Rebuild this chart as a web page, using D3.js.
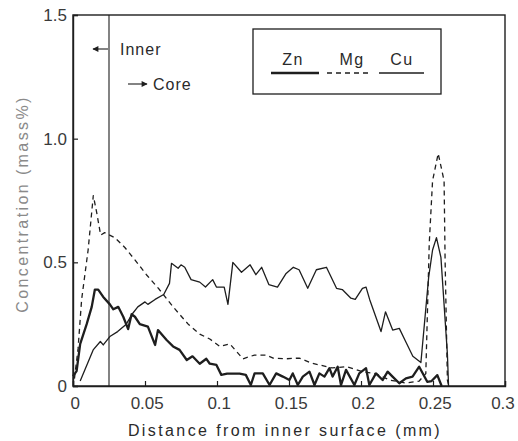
<!DOCTYPE html>
<html>
<head>
<meta charset="utf-8">
<script src="https://cdn.jsdelivr.net/npm/d3@7"></script>
<style>
  body { margin: 0; background: #fff; }
  svg { display: block; }
  text { font-family: "Liberation Sans", Arial, sans-serif; }
</style>
</head>
<body>
<svg width="518" height="441"></svg>
<script>
// Tick values and their printed labels
var xTicks = [0, 0.05, 0.1, 0.15, 0.2, 0.25, 0.3];
var xTickLabels = ["0", "0.05", "0.1", "0.15", "0.2", "0.25", "0.3"];
var yTicks = [0, 0.5, 1.0, 1.5];
var yTickLabels = ["0", "0.5", "1.0", "1.5"];

// Inner / core boundary position (mm)
var boundary = 0.025;

// Zn (thick solid) : [distance mm, mass%]
var zn = [
  [0.000, 0.04], [0.0025, 0.06], [0.005, 0.17], [0.0095, 0.25], [0.013, 0.32],
  [0.0152, 0.39], [0.0175, 0.39], [0.021, 0.36], [0.0256, 0.33], [0.028, 0.31],
  [0.0314, 0.32], [0.0349, 0.28], [0.0383, 0.23], [0.0407, 0.29], [0.043, 0.28],
  [0.0464, 0.25], [0.052, 0.24], [0.057, 0.166], [0.059, 0.226], [0.065, 0.186],
  [0.0695, 0.16], [0.074, 0.146], [0.079, 0.105], [0.083, 0.12], [0.088, 0.09],
  [0.0926, 0.11], [0.095, 0.09], [0.0996, 0.085], [0.103, 0.045], [0.107, 0.05],
  [0.111, 0.05], [0.1157, 0.05], [0.12, 0.045], [0.1235, 0.004], [0.1261, 0.051],
  [0.1318, 0.051], [0.1365, 0.004], [0.1411, 0.051], [0.1457, 0.038], [0.1503, 0.024],
  [0.1526, 0.051], [0.1561, 0.004], [0.1596, 0.038], [0.1642, 0.058], [0.1677, 0.004],
  [0.1711, 0.051], [0.1746, 0.038], [0.1781, 0.072], [0.1803, 0.038], [0.1838, 0.078],
  [0.1861, 0.004], [0.1896, 0.065], [0.1954, 0.004], [0.1988, 0.051], [0.2035, 0.072],
  [0.2058, 0.004], [0.2104, 0.051], [0.215, 0.024], [0.2185, 0.058], [0.2219, 0.038],
  [0.2266, 0.011], [0.2312, 0.031], [0.2358, 0.038], [0.2404, 0.078], [0.246, 0.017],
  [0.249, 0.02], [0.253, 0.044], [0.256, 0.0]
];

// Mg (dashed)
var mg = [
  [0.001, 0.03], [0.0035, 0.15], [0.006, 0.35], [0.0105, 0.55], [0.0141, 0.77],
  [0.0165, 0.70], [0.0192, 0.61], [0.022, 0.62], [0.029, 0.60], [0.036, 0.56],
  [0.043, 0.51], [0.051, 0.45], [0.060, 0.39], [0.0695, 0.32], [0.080, 0.25],
  [0.088, 0.21], [0.095, 0.19], [0.102, 0.16], [0.109, 0.17], [0.118, 0.11],
  [0.126, 0.125], [0.134, 0.125], [0.139, 0.113], [0.148, 0.11], [0.157, 0.113],
  [0.166, 0.092], [0.180, 0.073], [0.190, 0.078], [0.201, 0.058], [0.210, 0.05],
  [0.220, 0.024], [0.231, 0.012], [0.2404, 0.02], [0.245, 0.05], [0.2474, 0.577],
  [0.2497, 0.83], [0.2536, 0.94], [0.2577, 0.83], [0.2584, 0.51], [0.260, 0.024],
  [0.261, 0.0]
];

// Cu (thin solid)
var cu = [
  [0.005, 0.02], [0.014, 0.146], [0.019, 0.18], [0.021, 0.166], [0.0256, 0.20],
  [0.031, 0.22], [0.037, 0.25], [0.041, 0.29], [0.045, 0.32], [0.050, 0.34],
  [0.052, 0.33], [0.057, 0.35], [0.063, 0.37], [0.067, 0.415], [0.0684, 0.496],
  [0.073, 0.476], [0.075, 0.49], [0.0776, 0.48], [0.082, 0.43], [0.088, 0.42],
  [0.092, 0.40], [0.097, 0.43], [0.0996, 0.40], [0.105, 0.40], [0.1076, 0.33],
  [0.111, 0.50], [0.117, 0.46], [0.123, 0.49], [0.127, 0.45], [0.131, 0.48],
  [0.136, 0.41], [0.142, 0.40], [0.148, 0.455], [0.153, 0.48], [0.157, 0.47],
  [0.163, 0.395], [0.169, 0.47], [0.176, 0.48], [0.183, 0.395], [0.187, 0.39],
  [0.193, 0.355], [0.196, 0.35], [0.201, 0.395], [0.2035, 0.40], [0.206, 0.35],
  [0.2139, 0.22], [0.217, 0.30], [0.222, 0.226], [0.2266, 0.233], [0.231, 0.18],
  [0.236, 0.12], [0.2416, 0.095], [0.247, 0.44], [0.2497, 0.55], [0.2524, 0.60],
  [0.2555, 0.52], [0.260, 0.13], [0.2608, 0.0]
];

var legendNames = ["Zn", "Mg", "Cu"];

var svg = d3.select("svg");
var ink = "#1e1e1e";

var x = d3.scaleLinear().domain([0, 0.3]).range([73, 505]);
var y = d3.scaleLinear().domain([0, 1.5]).range([386, 15]);

// Frame
svg.append("rect")
   .attr("x", x(0)).attr("y", y(1.5))
   .attr("width", x(0.3) - x(0)).attr("height", y(0) - y(1.5))
   .attr("fill", "none").attr("stroke", ink).attr("stroke-width", 1.4);

// Axes with inward ticks
var xAxis = d3.axisBottom(x)
              .tickValues(xTicks)
              .tickFormat(function(d, i) { return xTickLabels[i]; })
              .tickSize(-5).tickPadding(11);
var yAxis = d3.axisLeft(y)
              .tickValues(yTicks)
              .tickFormat(function(d, i) { return yTickLabels[i]; })
              .tickSize(-5).tickPadding(6);

var gx = svg.append("g").attr("transform", "translate(0," + y(0) + ")").call(xAxis);
var gy = svg.append("g").attr("transform", "translate(" + x(0) + ",0)").call(yAxis);

[gx, gy].forEach(function(g) {
    g.select(".domain").attr("stroke", ink).attr("stroke-width", 1.4);
    g.selectAll(".tick line").attr("stroke", ink).attr("stroke-width", 1.2);
    g.selectAll(".tick text")
     .attr("fill", "#3a3a3a")
     .style("font-size", "17px")
     .style("font-family", "'Liberation Sans', Arial, sans-serif");
});
gx.selectAll(".tick text").attr("dx", function(d) { return d === 0.3 ? "-0.15em" : "0.1em"; });

// Axis titles
svg.append("text")
   .attr("x", 285).attr("y", 436)
   .attr("text-anchor", "middle")
   .attr("fill", "#2a2a2a")
   .style("font-size", "16px")
   .style("letter-spacing", "2.4px")
   .text("Distance from inner surface (mm)");

svg.append("text")
   .attr("transform", "translate(28,204) rotate(-90)")
   .attr("text-anchor", "middle")
   .attr("fill", "#8a8a8a")
   .style("font-size", "16px")
   .style("letter-spacing", "2.4px")
   .text("Concentration (mass%)");

// Inner / core boundary
svg.append("line")
   .attr("x1", x(boundary)).attr("x2", x(boundary))
   .attr("y1", y(1.5)).attr("y2", y(0))
   .attr("stroke", ink).attr("stroke-width", 1.1);

svg.append("defs").append("marker")
   .attr("id", "head")
   .attr("viewBox", "0 0 10 10")
   .attr("refX", 9).attr("refY", 5)
   .attr("markerWidth", 7).attr("markerHeight", 6)
   .attr("markerUnits", "userSpaceOnUse")
   .attr("orient", "auto")
   .append("path").attr("d", "M0,0L10,5L0,10Z").attr("fill", ink);

svg.append("line")
   .attr("x1", 108).attr("x2", 93).attr("y1", 49).attr("y2", 49)
   .attr("stroke", ink).attr("stroke-width", 1.1).attr("marker-end", "url(#head)");
svg.append("text")
   .attr("x", 120).attr("y", 55)
   .attr("fill", "#2a2a2a")
   .style("font-size", "16px").style("letter-spacing", "1px")
   .text("Inner");

svg.append("line")
   .attr("x1", 128).attr("x2", 147).attr("y1", 84).attr("y2", 84)
   .attr("stroke", ink).attr("stroke-width", 1.1).attr("marker-end", "url(#head)");
svg.append("text")
   .attr("x", 153).attr("y", 90)
   .attr("fill", "#2a2a2a")
   .style("font-size", "16px").style("letter-spacing", "1px")
   .text("Core");

// Series
var line = d3.line()
             .x(function(d) { return x(d[0]); })
             .y(function(d) { return y(d[1]); });

var series = [
    { name: "Mg", data: mg, width: 1.3, dash: "5,4" },
    { name: "Cu", data: cu, width: 1.3, dash: null },
    { name: "Zn", data: zn, width: 2.3, dash: null }
];

svg.append("g")
   .selectAll("path")
   .data(series)
   .enter()
   .append("path")
   .attr("d", function(d) { return line(d.data); })
   .attr("fill", "none")
   .attr("stroke", ink)
   .attr("stroke-width", function(d) { return d.width; })
   .attr("stroke-dasharray", function(d) { return d.dash; })
   .attr("stroke-linejoin", "round");

// Legend
var legend = svg.append("g");
legend.append("rect")
      .attr("x", 253).attr("y", 29).attr("width", 188).attr("height", 65)
      .attr("fill", "#fff").attr("stroke", ink).attr("stroke-width", 1.3);

var legendStyle = {
    Zn: { cx: 293, x1: 271, x2: 319, width: 2.3, dash: null },
    Mg: { cx: 352, x1: 327, x2: 372, width: 1.3, dash: "5,4" },
    Cu: { cx: 402, x1: 379, x2: 424, width: 1.3, dash: null }
};

legendNames.forEach(function(n) {
    var s = legendStyle[n];
    legend.append("text")
          .attr("x", s.cx).attr("y", 65)
          .attr("text-anchor", "middle")
          .attr("fill", "#2a2a2a")
          .style("font-size", "16px").style("letter-spacing", "1.5px")
          .text(n);
    legend.append("line")
          .attr("x1", s.x1).attr("x2", s.x2).attr("y1", 73).attr("y2", 73)
          .attr("stroke", ink)
          .attr("stroke-width", s.width)
          .attr("stroke-dasharray", s.dash);
});
</script>
</body>
</html>
